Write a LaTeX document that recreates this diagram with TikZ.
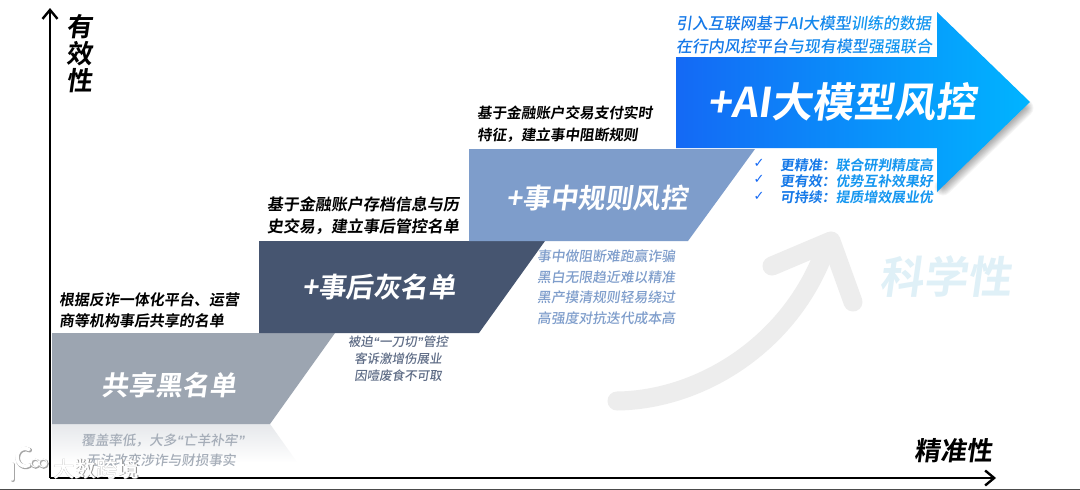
\documentclass[tikz,border=0pt]{standalone}
\usepackage{fontspec}
\usetikzlibrary{arrows.meta,fadings}
\setmainfont{Noto Sans CJK SC}
\newfontfamily\cjkb[FakeSlant=0.14]{Noto Sans CJK SC Bold}
\newfontfamily\cjkm[FakeSlant=0.14]{Noto Sans CJK SC Medium}
\newfontfamily\cjkw{Noto Sans CJK SC Medium}
\newfontfamily\latq[FakeSlant=0.14]{Liberation Sans Bold}
\newfontfamily\chk{DejaVu Sans}
\newcommand{\ql}{{\latq\symbol{"201C}}}
\newcommand{\qr}{{\latq\symbol{"201D}}}
\definecolor{grayband}{HTML}{9CA5B1}
\definecolor{darkband}{HTML}{465570}
\definecolor{midband}{HTML}{7E9DCB}
\definecolor{aiL}{HTML}{1469F5}
\definecolor{aiR}{HTML}{00B4FF}
\definecolor{curveg}{HTML}{EDEDED}
\definecolor{sciblue}{HTML}{DFF0F7}
\definecolor{txtgray}{HTML}{A5ADB8}
\definecolor{txtdark}{HTML}{5D6B85}
\definecolor{txtmid}{HTML}{7E9DCB}
\tikzset{
  band title/.style={text=white,inner sep=0,anchor=center},
  blackt/.style={text=black,inner sep=0,anchor=west,font=\cjkb\fontsize{15}{15}\selectfont},
  blackw/.style={text=black,inner sep=0,anchor=west,font=\cjkb\fontsize{16}{16}\selectfont},
  smallt/.style={inner sep=0,anchor=center,font=\cjkm\fontsize{12.5}{12.5}\selectfont},
  faintt/.style={inner sep=0,anchor=center,text=txtgray,font=\cjkm\fontsize{13.6}{13.6}\selectfont},
  midt/.style={inner sep=0,anchor=west,text=txtmid,font=\cjkm\fontsize{13.8}{13.8}\selectfont},
  bullett/.style={inner sep=0,anchor=west,font=\cjkb\fontsize{13.9}{13.9}\selectfont},
  topt/.style={inner sep=0,anchor=west,font=\cjkm\fontsize{16}{16}\selectfont},
  axislab/.style={inner sep=0,anchor=center,text=black,font=\cjkb\fontsize{26}{26}\selectfont},
  axisline/.style={line width=2.6pt,draw=black,-{Straight Barb[length=9pt,width=15pt,line width=2.4pt]}},
  chkmark/.style={inner sep=0,anchor=center,text=aiL,font=\chk\fontsize{13}{13}\selectfont},
  logoline/.style={line cap=round}
}
\tikzfading[name=fadedown,top color=transparent!75,bottom color=transparent!100]
\begin{document}
\begin{tikzpicture}[x=1pt,y=-1pt]
\useasboundingbox (0,0) rectangle (1080,490);
\fill[white] (0,0) rectangle (1080,490);
\fill[black!70] (0,489) rectangle (1080,490);
% bands
\fill[grayband,path fading=fadedown] (52,424) -- (270,424) -- (297,462) -- (52,462) -- cycle;
\fill[grayband] (52,333) -- (335,333) -- (270,424) -- (52,424) -- cycle;
\fill[darkband] (259,241) -- (545,241) -- (479,333) -- (259,333) -- cycle;
\fill[midband] (469,149) -- (755,149) -- (688,241) -- (469,241) -- cycle;
% curved arrow
\draw[curveg,line width=19pt,line cap=round,line join=round] (617,401) .. controls (700,400) and (790,345) .. (825,250);
\draw[curveg,line width=19pt,line cap=round,line join=round] (772,266) -- (831,241) -- (853,302);
% shadow of AI arrow
\foreach \w in {1,3,5,7,9,11,13,15,17}{
  \draw[black,opacity=0.04,line width=\w pt,line join=round,line cap=round]
   (943,187) -- (1025,108);
}
% AI arrow
\shade[left color=aiL,right color=aiR] (676,57) -- (937,57) -- (937,12) -- (1030,102) -- (937,192) -- (937,148) -- (676,148) -- cycle;
% titles
\node[band title,font=\cjkb\fontsize{27}{27}\selectfont] (t1) at (169,385) {共享黑名单};
\node[band title,font=\cjkb\fontsize{27.5}{27.5}\selectfont] (t2) at (379,287) {+事后灰名单};
\node[band title,font=\cjkb\fontsize{27.5}{27.5}\selectfont] (t3) at (597,198) {+事中规则风控};
\node[band title,font=\cjkb\fontsize{41}{41}\selectfont] (t4) at (842,102) {+AI大模型风控};
% black captions
\node[blackt] (a1) at (59,300) {根据反诈一体化平台、运营};
\node[blackt] (a2) at (59,321) {商等机构事后共享的名单};
\node[blackw] (b1) at (267,204) {基于金融账户存档信息与历};
\node[blackw] (b2) at (267,227) {史交易，建立事后管控名单};
\node[blackt,font=\cjkb\fontsize{14.6}{14.6}\selectfont] (c1) at (477,113) {基于金融账户交易支付实时};
\node[blackt,font=\cjkb\fontsize{14.6}{14.6}\selectfont] (c2) at (477,135) {特征，建立事中阻断规则};
% top blue text
\node[topt] (d1) at (676,23) {\textcolor[HTML]{1478E8}{引入互联网基于}\textcolor[HTML]{1488EC}{AI大模型}\textcolor[HTML]{1496F0}{训练的数据}};
\node[topt] (d2) at (676,46) {\textcolor[HTML]{1478E8}{在行内风控平台}\textcolor[HTML]{1488EC}{与现有模型}\textcolor[HTML]{1496F0}{强强联合}};
% gray small text
\node[faintt] (e1) at (163,441) {覆盖率低，大多\ql 亡羊补牢\qr};
\node[faintt] (e2) at (161,460) {无法改变涉诈与财损事实};
% dark small text
\node[smallt,text=txtdark] (f1) at (398,342) {被迫\ql 一刀切\qr 管控};
\node[smallt,text=txtdark] (f2) at (398,359) {客诉激增伤展业};
\node[smallt,text=txtdark] (f3) at (398,376) {因噎废食不可取};
% mid small text
\node[midt] (g1) at (537,256) {事中做阻断难跑赢诈骗};
\node[midt] (g2) at (537,277) {黑白无限趋近难以精准};
\node[midt] (g3) at (537,297) {黑产摸清规则轻易绕过};
\node[midt] (g4) at (537,318) {高强度对抗迭代成本高};
% bullets
\node[chkmark] (k1) at (759,163) {✓};
\node[chkmark] (k2) at (759,179) {✓};
\node[chkmark] (k3) at (759,196) {✓};
\node[bullett] (h1) at (780,165) {\textcolor[HTML]{1478E8}{更精准：}\textcolor[HTML]{1496F0}{联合研判精度高}};
\node[bullett] (h2) at (780,181) {\textcolor[HTML]{1478E8}{更有效：}\textcolor[HTML]{1496F0}{优势互补效果好}};
\node[bullett] (h3) at (780,197) {\textcolor[HTML]{1478E8}{可持续：}\textcolor[HTML]{1496F0}{提质增效展业优}};
% science
\node[inner sep=0,text=sciblue,font=\cjkb\fontsize{44}{44}\selectfont] (s) at (945,277) {科学性};
% axes
\coordinate (o) at (50,478);
\coordinate (yend) at (50,8);
\coordinate (xend) at (996,478);
\draw[axisline] (o) -- (yend);
\draw[axisline] (o) -- (xend);
\node[axislab] (y1) at (79,27) {有};
\node[axislab] (y2) at (79,54) {效};
\node[axislab] (y3) at (79,81) {性};
\node[axislab] (x1) at (953,451) {精准性};
% watermark
\node[inner sep=0,text=black!45,font=\cjkw\fontsize{21.5}{21.5}\selectfont] (wb) at (96.8,469.8) {大数跨境};
\node[inner sep=0,text=white,font=\cjkw\fontsize{21.5}{21.5}\selectfont] (w) at (96,469) {大数跨境};
\begin{scope}[shift={(0.8,0.8)},black!35]
\draw[line width=4.5pt,logoline] (12,464) -- (12,479);
\draw[line width=4.5pt,logoline] (29,465) arc[start angle=60,end angle=300,x radius=8,y radius=9];
\draw[line width=2pt] (35,463) circle[radius=4];
\draw[line width=2pt] (43,463) circle[radius=4];
\end{scope}
\draw[white,line width=3.5pt,logoline] (12,464) -- (12,479);
\draw[white,line width=3.5pt,logoline] (29,465) arc[start angle=60,end angle=300,x radius=8,y radius=9];
\draw[white,line width=1pt] (35,463) circle[radius=4];
\draw[white,line width=1pt] (43,463) circle[radius=4];
\end{tikzpicture}
\end{document}
